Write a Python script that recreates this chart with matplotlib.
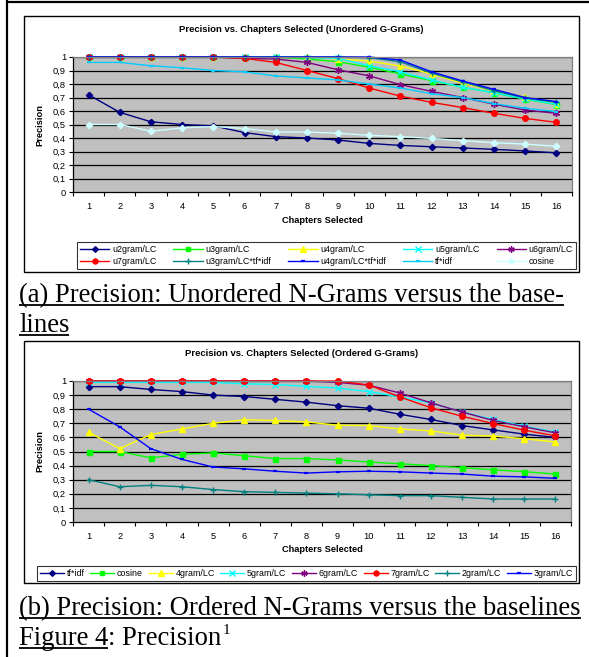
import matplotlib
matplotlib.use("Agg")
import matplotlib.pyplot as plt
from matplotlib.lines import Line2D
from matplotlib.patches import Rectangle

# ---------------- data ----------------
chapters = list(range(1, 17))
y_ticks = [0, 0.1, 0.2, 0.3, 0.4, 0.5, 0.6, 0.7, 0.8, 0.9, 1.0]
y_tick_labels = ["0", "0,1", "0,2", "0,3", "0,4", "0,5", "0,6", "0,7", "0,8", "0,9", "1"]

title_a = "Precision vs. Chapters Selected (Unordered G-Grams)"
title_b = "Precision vs. Chapters Selected (Ordered G-Grams)"
xlabel = "Chapters Selected"
ylabel = "Precision"

# chart (a) - unordered
a_u2gram = [0.72, 0.59, 0.52, 0.50, 0.49, 0.44, 0.41, 0.40, 0.385, 0.36, 0.345, 0.335, 0.326, 0.316, 0.304, 0.29]
a_u3gram = [1, 1, 1, 1, 1, 1, 1, 0.985, 0.965, 0.924, 0.874, 0.825, 0.775, 0.735, 0.687, 0.648]
a_u4gram = [1, 1, 1, 1, 1, 1, 1, 1, 0.985, 0.97, 0.933, 0.874, 0.805, 0.75, 0.705, 0.655]
a_u5gram = [1, 1, 1, 1, 1, 1, 1, 0.995, 0.99, 0.935, 0.89, 0.83, 0.775, 0.735, 0.69, 0.65]
a_u6gram = [1, 1, 1, 1, 1, 0.99, 0.985, 0.96, 0.905, 0.86, 0.795, 0.745, 0.70, 0.65, 0.607, 0.583]
a_u7gram = [1, 1, 1, 1, 1, 0.99, 0.96, 0.90, 0.84, 0.77, 0.71, 0.664, 0.625, 0.583, 0.545, 0.516]
a_u3gram_tfidf = [1, 1, 1, 1, 1, 1, 1, 1, 1, 0.995, 0.965, 0.88, 0.815, 0.75, 0.695, 0.665]
a_u4gram_tfidf = [1, 1, 1, 1, 1, 1, 1, 1, 1, 1, 0.977, 0.89, 0.822, 0.76, 0.70, 0.669]
a_tfidf = [0.96, 0.96, 0.935, 0.92, 0.90, 0.89, 0.86, 0.845, 0.83, 0.80, 0.77, 0.728, 0.70, 0.655, 0.62, 0.595]
a_cosine = [0.50, 0.50, 0.45, 0.475, 0.485, 0.47, 0.445, 0.445, 0.435, 0.42, 0.41, 0.397, 0.38, 0.365, 0.355, 0.338]

# chart (b) - ordered
b_tfidf = [0.96, 0.96, 0.94, 0.925, 0.90, 0.89, 0.87, 0.85, 0.825, 0.807, 0.764, 0.727, 0.684, 0.653, 0.623, 0.60]
b_cosine = [0.50, 0.50, 0.455, 0.48, 0.49, 0.47, 0.45, 0.45, 0.44, 0.425, 0.413, 0.40, 0.385, 0.37, 0.357, 0.34]
b_4gram = [0.637, 0.52, 0.62, 0.66, 0.70, 0.725, 0.72, 0.71, 0.686, 0.684, 0.66, 0.646, 0.616, 0.61, 0.59, 0.568]
b_5gram = [0.99, 0.99, 0.99, 0.99, 0.99, 0.98, 0.975, 0.962, 0.95, 0.925, 0.887, 0.845, 0.78, 0.727, 0.68, 0.637]
b_6gram = [1, 1, 1, 1, 1, 1, 1, 1, 0.99, 0.97, 0.915, 0.845, 0.78, 0.72, 0.675, 0.632]
b_7gram = [1, 1, 1, 1, 1, 1, 1, 1, 1, 0.972, 0.887, 0.81, 0.75, 0.698, 0.651, 0.611]
b_2gram = [0.30, 0.25, 0.26, 0.25, 0.23, 0.215, 0.21, 0.205, 0.20, 0.193, 0.187, 0.187, 0.175, 0.163, 0.163, 0.163]
b_3gram = [0.80, 0.675, 0.52, 0.444, 0.39, 0.377, 0.36, 0.347, 0.356, 0.36, 0.356, 0.347, 0.34, 0.325, 0.32, 0.31]

caption_a1 = "(a) Precision: Unordered N-Grams versus the base-"
caption_a2 = "lines"
caption_b = "(b) Precision: Ordered N-Grams versus the baselines"
caption_fig = "Figure 4"
caption_fig_rest = ": Precision"
caption_sup = "1"

# ---------------- styles ----------------
NAVY, GREEN, YELLOW, CYAN = "#000080", "#00FF00", "#FFFF00", "#00FFFF"
PURPLE, RED, TEAL, BLUE = "#800080", "#FF0000", "#008080", "#0000FF"
SKY, PALE = "#00CCFF", "#CCFFFF"
STAR = (6, 2, 0)

series_a = [
    ("u2gram/LC", a_u2gram, NAVY, "D", 3.2),
    ("u3gram/LC", a_u3gram, GREEN, "s", 3.6),
    ("u4gram/LC", a_u4gram, YELLOW, "^", 4.2),
    ("u5gram/LC", a_u5gram, CYAN, "x", 4.2),
    ("u6gram/LC", a_u6gram, PURPLE, STAR, 5.0),
    ("u7gram/LC", a_u7gram, RED, "o", 4.0),
    ("u3gram/LC*tf*idf", a_u3gram_tfidf, TEAL, "+", 5.0),
    ("u4gram/LC*tf*idf", a_u4gram_tfidf, BLUE, "_", 3.5),
    ("tf*idf", a_tfidf, SKY, "_", 3.5),
    ("cosine", a_cosine, PALE, "D", 3.2),
]
series_b = [
    ("tf*idf", b_tfidf, NAVY, "D", 3.2),
    ("cosine", b_cosine, GREEN, "s", 3.6),
    ("4gram/LC", b_4gram, YELLOW, "^", 4.2),
    ("5gram/LC", b_5gram, CYAN, "x", 4.2),
    ("6gram/LC", b_6gram, PURPLE, STAR, 5.0),
    ("7gram/LC", b_7gram, RED, "o", 4.0),
    ("2gram/LC", b_2gram, TEAL, "+", 5.0),
    ("3gram/LC", b_3gram, BLUE, "_", 3.5),
]

W, H = 589, 657
fig = plt.figure(figsize=(W / 100, H / 100), dpi=100)
fig.patch.set_facecolor("white")
renderer = fig.canvas.get_renderer()

SANS = "Liberation Sans"
SERIF = "Liberation Serif"


def fx(px):
    return px / W


def fy(py):
    return 1 - py / H


def rect(l, t, r, b):
    return [l / W, 1 - b / H, (r - l) / W, (b - t) / H]


def hline(x0, x1, y, lw=1.0, color="black"):
    fig.add_artist(Line2D([fx(x0), fx(x1)], [fy(y), fy(y)], color=color, lw=lw,
                          transform=fig.transFigure, solid_capstyle="butt"))


def vline(x, y0, y1, lw=1.0, color="black"):
    fig.add_artist(Line2D([fx(x), fx(x)], [fy(y0), fy(y1)], color=color, lw=lw,
                          transform=fig.transFigure, solid_capstyle="butt"))


def box(l, t, r, b, lw=1.0):
    fig.add_artist(Rectangle((fx(l), fy(b)), fx(r) - fx(l), fy(t) - fy(b), fill=False,
                             edgecolor="black", lw=lw, transform=fig.transFigure))


def text_px(x, y, s, **kw):
    t = fig.text(fx(x), fy(y), s, va="baseline", ha="left", **kw)
    bb = t.get_window_extent(renderer=renderer)
    return t, bb.x1  # right edge in pixels


def make_chart(axrect, series, title, title_y, legend_bbox, ncol, nrow, xlab_y, handlelen):
    ax = fig.add_axes(axrect)
    ax.set_facecolor("#C0C0C0")
    for name, vals, col, mk, ms in series:
        mew = 1.6 if mk == "_" else 1.0
        ax.plot(chapters, vals, color=col, lw=1.0, marker=mk, ms=ms, mfc=col, mec=col,
                mew=mew, label=name, clip_on=False)
    ax.set_xlim(0.5, 16.5)
    ax.set_ylim(0, 1)
    ax.set_yticks(y_ticks)
    ax.set_yticklabels(y_tick_labels, fontfamily=SANS, fontsize=6.7)
    ax.set_xticks(chapters)
    ax.set_xticklabels([str(c) for c in chapters], fontfamily=SANS, fontsize=6.7)
    ax.set_xticks([c + 0.5 for c in [0] + chapters], minor=True)
    ax.tick_params(axis="x", which="major", length=0, pad=7)
    ax.tick_params(axis="x", which="minor", length=3, width=0.8, direction="out")
    ax.tick_params(axis="y", which="major", length=3, width=0.8, direction="out", pad=2)
    for yv in y_ticks[1:]:
        ax.axhline(yv, color="black", lw=0.9, zorder=0.5)
    ax.spines["left"].set_color("black")
    ax.spines["bottom"].set_color("black")
    ax.spines["top"].set_color("#808080")
    ax.spines["right"].set_color("#808080")
    for s in ax.spines.values():
        s.set_linewidth(0.9)
    ax.set_ylabel(ylabel, fontfamily=SANS, fontsize=6.7, fontweight="bold")
    ax.yaxis.set_label_coords(-0.058, 0.5)
    ax.set_xlabel(xlabel, fontfamily=SANS, fontsize=6.7, fontweight="bold")
    ax.xaxis.set_label_coords(0.5, xlab_y)
    fig.text(fx(301.5), fy(title_y), title, fontfamily=SANS, fontsize=6.8,
             fontweight="bold", ha="center", va="center")
    l, t, r, b = legend_bbox
    handles, labels = ax.get_legend_handles_labels()
    # legend fills column-wise: reorder so entries read row by row
    order = [rr * ncol + cc for cc in range(ncol) for rr in range(nrow)]
    handles = [handles[i] for i in order]
    labels = [labels[i] for i in order]
    leg = fig.legend(handles, labels, loc="lower left",
                     bbox_to_anchor=(fx(l), fy(b), fx(r) - fx(l), fy(t) - fy(b)),
                     bbox_transform=fig.transFigure, mode="expand", ncol=ncol,
                     prop={"family": SANS, "size": 6.4}, frameon=True, fancybox=False,
                     edgecolor="black", borderpad=0.35, handlelength=handlelen,
                     handletextpad=0.3, labelspacing=0.35, borderaxespad=0,
                     markerscale=0.9)
    leg.get_frame().set_linewidth(0.8)
    return ax


make_chart(rect(73, 57, 572, 192), series_a, title_a, 29,
           (77, 239, 576, 269), 5, 2, -0.18, 3.3)
make_chart(rect(73, 381, 571, 522), series_b, title_b, 353,
           (37, 568, 576, 581), 8, 1, -0.16, 2.7)

# chart frames
box(24, 16, 579, 272)
box(24, 341, 579, 583)

# page border
vline(7, 0, H, lw=1.6)
hline(6.2, W, 1.5, lw=1.6)

# captions
fs = 19.2
x0 = 19
_, r1 = text_px(x0, 302, caption_a1, fontfamily=SERIF, fontsize=fs)
hline(x0, r1, 304.5, lw=1.3)
_, r2 = text_px(x0, 332, caption_a2, fontfamily=SERIF, fontsize=fs)
hline(x0, r2, 334.5, lw=1.3)
_, r3 = text_px(x0, 615, caption_b, fontfamily=SERIF, fontsize=fs)
hline(x0, min(r3, W), 617.5, lw=1.3)
_, r4 = text_px(x0, 645, caption_fig, fontfamily=SERIF, fontsize=fs)
hline(x0, r4, 647.5, lw=1.3)
_, r5 = text_px(r4, 645, caption_fig_rest, fontfamily=SERIF, fontsize=fs)
text_px(r5 + 1, 634, caption_sup, fontfamily=SERIF, fontsize=11)

fig.savefig("out.png", dpi=100)
